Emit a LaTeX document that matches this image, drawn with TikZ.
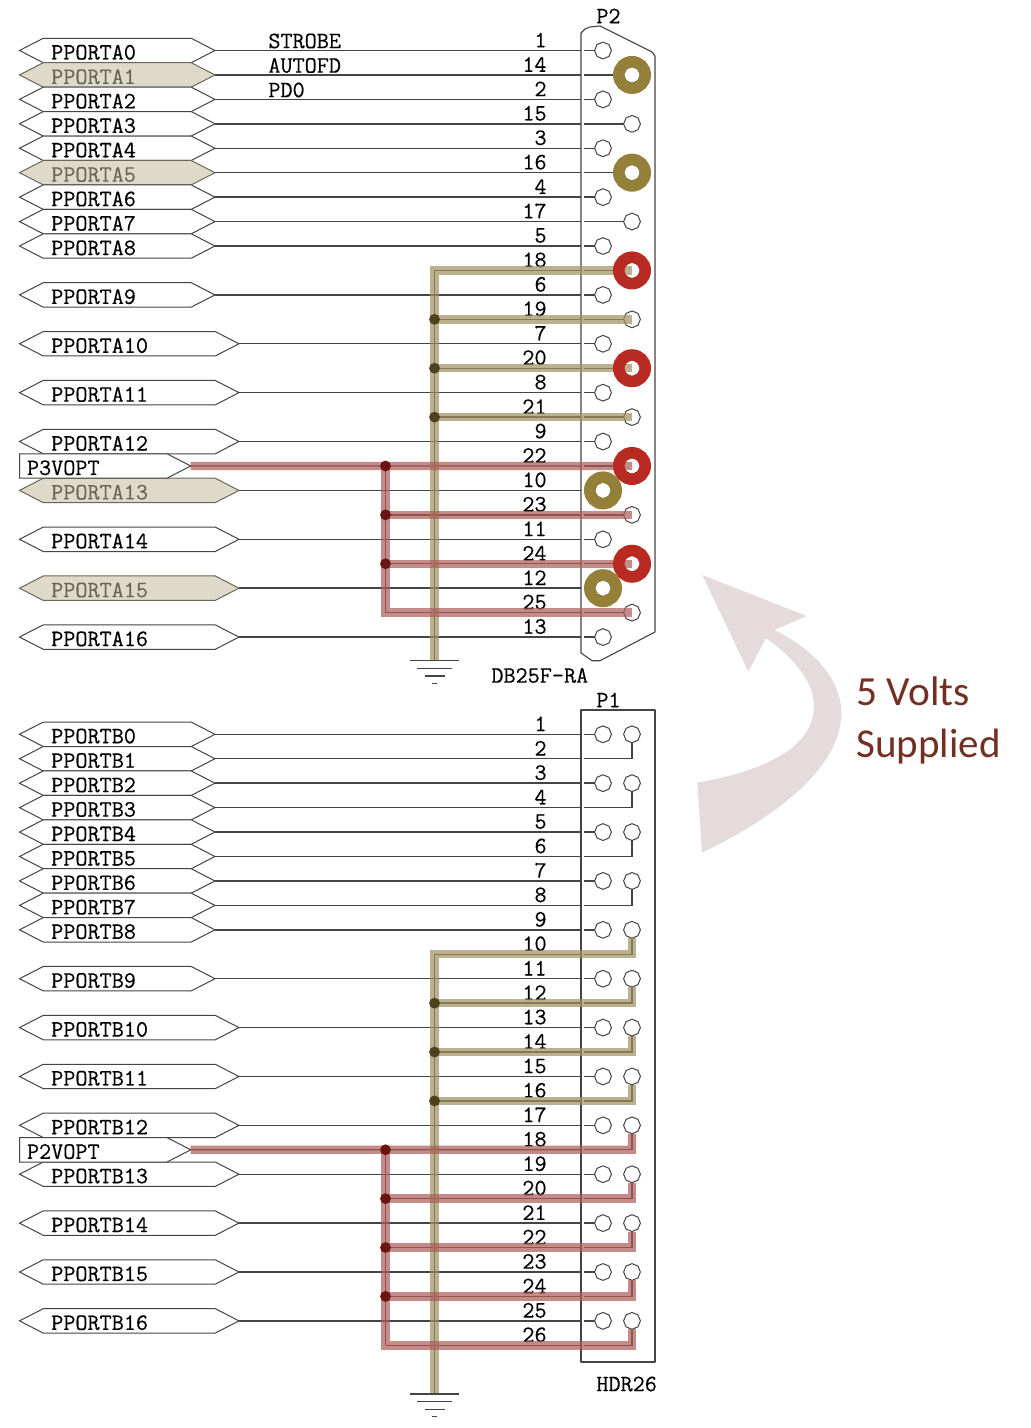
\documentclass[tikz,border=0pt]{standalone}
\usepackage{fontspec}
\usetikzlibrary{shapes.geometric,shapes.symbols}
\newfontfamily\calloutfont{Carlito}
\newfontfamily\schemfont[FakeBold=.35]{Latin Modern Mono}
\definecolor{wirecol}{HTML}{444444}
\definecolor{goldcol}{HTML}{95803A}
\definecolor{redcol}{HTML}{B92B22}
\definecolor{tanfill}{HTML}{DEDACA}
\definecolor{dimtext}{HTML}{6B6655}
\definecolor{tanhlcol}{HTML}{A0915F}
\definecolor{redhlcol}{HTML}{AC5B58}
\definecolor{arrowcol}{HTML}{E5DBDD}
\definecolor{calloutcol}{HTML}{722F22}
\definecolor{tanjoincol}{HTML}{4F401E}
\definecolor{redjoincol}{HTML}{6B1510}
\tikzset{
 monotext/.style={font=\fontsize{11.75pt}{12pt}\selectfont\schemfont,text=black},
 portbase/.style={signal,monotext,draw=wirecol,line width=.5pt,anchor=west,
   minimum height=12.22pt,inner ysep=0pt,inner xsep=4pt,outer sep=0pt,
   text height=9pt,text depth=0pt,align=left,signal pointer angle=54.5},
 portS/.style={portbase,signal to=west and east,fill=white,text width=66pt},
 portL/.style={portbase,signal to=west and east,fill=white,text width=78pt},
 portSd/.style={portS,fill=tanfill,text=dimtext,draw=dimtext},
 portLd/.style={portL,fill=tanfill,text=dimtext,draw=dimtext},
 portV/.style={portbase,signal to=east,fill=white,inner xsep=3.75pt,text width=66.25pt},
 wire/.style={draw=wirecol,line width=.7pt},
 outline/.style={draw=wirecol,line width=.55pt,line join=round},
 pinhole/.style={regular polygon,regular polygon sides=8,shape border rotate=22.5,draw=wirecol,
   line width=.5pt,fill=white,minimum size=8.4pt,inner sep=0pt,outer sep=0pt},
 padgold/.style={circle,draw=goldcol,line width=5.75pt,minimum size=13.25pt,inner sep=0pt,outer sep=0pt},
 padred/.style={padgold,draw=redcol},
 tanhl/.style={draw=tanhlcol,line width=4.2pt,opacity=.7},
 redhl/.style={draw=redhlcol,line width=4.2pt,opacity=.7},
 tanjoin/.style={circle,fill=tanjoincol,minimum size=5.4pt,inner sep=0pt},
 redjoin/.style={circle,fill=redjoincol,minimum size=5.4pt,inner sep=0pt},
 numlabel/.style={monotext,anchor=east,inner sep=0pt},
 txtlabel/.style={monotext,anchor=west,inner sep=0pt},
}
\newcommand{\groundsym}[1]{%
 \draw[wire] ([shift={(-24.5,0)}]#1) -- ([shift={(24.5,0)}]#1);
 \draw[wire] ([shift={(-17.5,7.6)}]#1) -- ([shift={(17.5,7.6)}]#1);
 \draw[wire] ([shift={(-10,15.3)}]#1) -- ([shift={(10,15.3)}]#1);
 \draw[wire] ([shift={(-2.5,22.6)}]#1) -- ([shift={(2.5,22.6)}]#1);
}
\begin{document}
\begin{tikzpicture}[x=.5pt,y=-.5pt]
\useasboundingbox (0,0) rectangle (1030,1428);
\fill[white] (0,0) rectangle (1030,1428);

% --- named coordinates, rows of both connectors
\foreach \i in {0,...,25}{
 \pgfmathsetmacro\ya{50.5+24.44*\i}
 \pgfmathsetmacro\yb{734.3+24.44*\i}
 \coordinate (ea\i) at (581,\ya); \coordinate (sa\i) at (584,\ya);
 \coordinate (ta\i) at (434.5,\ya); \coordinate (da\i) at (385.5,\ya);
 \coordinate (eb\i) at (581,\yb); \coordinate (sb\i) at (584,\yb);
 \coordinate (tb\i) at (434.5,\yb); \coordinate (db\i) at (385.5,\yb);
 \coordinate (cb\i) at (632,\yb);
}
\coordinate (gndA) at (434.5,660.7);
\coordinate (gndB) at (434.5,1394);

% --- big arrow and callout
\fill[arrowcol] (702.3,575) -- (806.7,616) -- (774.3,630)
  .. controls (815,650) and (841.3,680) .. (841.3,713.3)
  .. controls (841.3,770) and (770,820) .. (702,852.7)
  -- (697.3,782.7)
  .. controls (770,770) and (814,745) .. (814,705.7)
  .. controls (814,680) and (790,655) .. (766,638.3)
  -- (748.3,671.7) -- cycle;
\node[anchor=base west,inner sep=0pt,text=calloutcol,font=\fontsize{20.7pt}{24pt}\selectfont\calloutfont] (voltsa) at (856,705.7) {5 Volts};
\node[anchor=base west,inner sep=0pt,text=calloutcol,font=\fontsize{20.5pt}{24pt}\selectfont\calloutfont] (voltsb) at (856,757) {Supplied};

% --- connector bodies
\draw[outline] (581,33) -- (585,29) -- (590,27) -- (600,26) -- (652,52) -- (655,56)
  -- (655,632) -- (600,660.7) -- (592,660.7) -- (581,653) -- cycle;
\draw[outline] (581,710) rectangle (655,1362);
\node[txtlabel] (P2lab) at (596,16) {P2};
\node[txtlabel] (DBlab) at (491,675.5) {DB25F-RA};
\node[txtlabel] (P1lab) at (596,700) {P1};
\node[txtlabel] (HDRlab) at (596,1384) {HDR26};
\node[txtlabel] (strobe) at (268,41) {STROBE};
\node[txtlabel] (autofd) at (268,65.5) {AUTOFD};
\node[txtlabel] (pdzero) at (268,90) {PD0};

% --- pin numbers
\foreach \i/\n in {0/1,1/14,2/2,3/15,4/3,5/16,6/4,7/17,8/5,9/18,10/6,11/19,12/7,13/20,14/8,15/21,16/9,17/22,18/10,19/23,20/11,21/24,22/12,23/25,24/13}{
 \pgfmathsetmacro\ya{50.5+24.44*\i-10.5}
 \node[numlabel] (na\i) at (547,\ya) {\n};
}
\foreach \i [evaluate=\i as \n using int(\i+1)] in {0,...,25}{
 \pgfmathsetmacro\yb{734.3+24.44*\i-10.5}
 \node[numlabel] (nb\i) at (547,\yb) {\n};
}

% --- ports of P2
\foreach \i/\t/\s in {0/PPORTA0/portS,1/PPORTA1/portSd,2/PPORTA2/portS,3/PPORTA3/portS,4/PPORTA4/portS,5/PPORTA5/portSd,6/PPORTA6/portS,7/PPORTA7/portS,8/PPORTA8/portS,10/PPORTA9/portS,12/PPORTA10/portL,14/PPORTA11/portL,16/PPORTA12/portL,18/PPORTA13/portLd,20/PPORTA14/portL,22/PPORTA15/portLd,24/PPORTA16/portL}{
 \pgfmathsetmacro\ya{50.5+24.44*\i}
 \node[\s] (\t) at (19.5,\ya) {\t};
 \draw[wire] (\t.east) -- (ea\i);
}
\node[portV] (P3VOPT) at (19.5,465.98) {P3VOPT};
\draw[wire] (P3VOPT.east) -- (ea17);

% --- ports of P1
\foreach \i/\t/\s in {0/PPORTB0/portS,1/PPORTB1/portS,2/PPORTB2/portS,3/PPORTB3/portS,4/PPORTB4/portS,5/PPORTB5/portS,6/PPORTB6/portS,7/PPORTB7/portS,8/PPORTB8/portS,10/PPORTB9/portS,12/PPORTB10/portL,14/PPORTB11/portL,16/PPORTB12/portL,18/PPORTB13/portL,20/PPORTB14/portL,22/PPORTB15/portL,24/PPORTB16/portL}{
 \pgfmathsetmacro\yb{734.3+24.44*\i}
 \node[\s] (\t) at (19.5,\yb) {\t};
 \draw[wire] (\t.east) -- (eb\i);
}
\node[portV] (P2VOPT) at (19.5,1149.78) {P2VOPT};
\draw[wire] (P2VOPT.east) -- (eb17);

% --- thin net wires: ground and supply branches
\foreach \i in {9,11,13,15}{\draw[wire] (ta\i) -- (ea\i); \draw[wire] (tb\i) -- (eb\i);}
\foreach \i in {19,21,23}{\draw[wire] (da\i) -- (ea\i);}
\foreach \i in {19,21,23,25}{\draw[wire] (db\i) -- (eb\i);}
\draw[wire] (ta9) -- (gndA);
\draw[wire] (tb9) -- (gndB);
\draw[wire] (da17) -- (da23);
\draw[wire] (db17) -- (db25);

% --- pins of P2 and their stubs
\foreach \i in {0,2,...,24}{
 \pgfmathsetmacro\ya{50.5+24.44*\i}
 \node[pinhole] (pa\i) at (603,\ya) {};
 \draw[wire] (sa\i) -- (pa\i.west);
}
\foreach \i in {1,3,...,23}{
 \pgfmathsetmacro\ya{50.5+24.44*\i}
 \node[pinhole] (pa\i) at (632,\ya) {};
 \draw[wire] (sa\i) -- (pa\i.west);
}

% --- pins of P1 and their stubs
\foreach \i/\k in {0/1,2/3,4/5,6/7,8/9,10/11,12/13,14/15,16/17,18/19,20/21,22/23,24/25}{
 \pgfmathsetmacro\yb{734.3+24.44*\i}
 \node[pinhole] (pb\i) at (603,\yb) {};
 \node[pinhole] (qb\i) at (632,\yb) {};
 \draw[wire] (sb\i) -- (pb\i.west);
 \draw[wire] (sb\k) -- (cb\k) -- (qb\i.south);
}

% --- highlights, P2
\draw[tanhl] (pa9.center) -- (ta9) -- (gndA);
\foreach \i in {11,13,15}{\draw[tanhl] (ta\i) -- (pa\i.center);}
\draw[redhl] (P3VOPT.east) -- (pa17.center);
\draw[redhl] (da17) -- (da23) -- (pa23.center);
\foreach \i in {19,21}{\draw[redhl] (da\i) -- (pa\i.center);}

% --- highlights, P1
\draw[tanhl] (qb8.south) -- (cb9) -- (tb9) -- (gndB);
\foreach \i/\k in {10/11,12/13,14/15}{\draw[tanhl] (qb\i.south) -- (cb\k) -- (tb\k);}
\draw[redhl] (P2VOPT.east) -- (cb17) -- (qb16.south);
\draw[redhl] (db17) -- (db25) -- (cb25) -- (qb24.south);
\foreach \i/\k in {18/19,20/21,22/23}{\draw[redhl] (qb\i.south) -- (cb\k) -- (db\k);}

% --- pads
\foreach \i in {1,5}{\node[padgold] (pad\i) at (pa\i) {};}
\foreach \i in {18,22}{\node[padgold] (pad\i) at (pa\i) {};}
\foreach \i in {9,13,17,21}{\node[padred] (pad\i) at (pa\i) {};}

% --- junctions
\foreach \i in {11,13,15}{\node[tanjoin] (ja\i) at (ta\i) {}; \node[tanjoin] (jb\i) at (tb\i) {};}
\foreach \i in {17,19,21}{\node[redjoin] (ka\i) at (da\i) {};}
\foreach \i in {17,19,21,23}{\node[redjoin] (kb\i) at (db\i) {};}

% --- grounds
\groundsym{gndA}
\groundsym{gndB}
\end{tikzpicture}
\end{document}
